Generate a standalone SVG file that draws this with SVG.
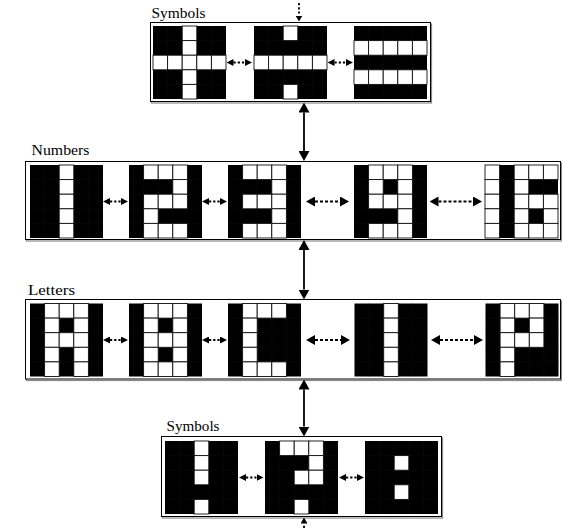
<svg xmlns="http://www.w3.org/2000/svg" width="562" height="528" viewBox="0 0 562 528">
<style>
.lbl{font-family:"Liberation Serif","DejaVu Serif",serif;font-size:14px;fill:#000}
.box{fill:#fff;stroke:#000;stroke-width:1}
.sh{fill:none;stroke:#8a8a8a;stroke-width:1.2}
.w{fill:#fff;stroke:#111;stroke-width:0.9}
.dot{stroke:#000;stroke-width:1.8;stroke-dasharray:2.2 2}
.dash{stroke:#000;stroke-width:1.8;stroke-dasharray:3 2}
.sol{stroke:#000;stroke-width:1.8}
</style>
<defs>
<g id="base"><rect width="73" height="73" fill="#000"/><path d="M14.6,0V73M29.2,0V73M43.8,0V73M58.4,0V73M0,14.6H73M0,29.2H73M0,43.8H73M0,58.4H73" stroke="#0e0e0e" stroke-width="0.5"/></g>
<rect id="c" class="w" width="14.6" height="14.6"/>
<marker id="hs" viewBox="0 0 10 10" refX="0" refY="5" markerWidth="7" markerHeight="7" markerUnits="userSpaceOnUse" orient="auto-start-reverse" preserveAspectRatio="none"><path d="M0,0L10,5L0,10z"/></marker>
<marker id="hl" viewBox="0 0 10 10" refX="0" refY="5" markerWidth="9" markerHeight="10" markerUnits="userSpaceOnUse" orient="auto-start-reverse" preserveAspectRatio="none"><path d="M0,0L10,5L0,10z"/></marker>
<marker id="hv" viewBox="0 0 10 10" refX="0" refY="5" markerWidth="10" markerHeight="11" markerUnits="userSpaceOnUse" orient="auto-start-reverse" preserveAspectRatio="none"><path d="M0,0L10,5L0,10z"/></marker>
<marker id="ht" viewBox="0 0 10 10" refX="0" refY="5" markerWidth="6" markerHeight="7" markerUnits="userSpaceOnUse" orient="auto-start-reverse" preserveAspectRatio="none"><path d="M0,0L10,5L0,10z"/></marker>
</defs>

<g id="symbols-top">
<rect class="sh" x="151.5" y="24" width="280" height="79"/>
<rect class="box" x="150.5" y="22.5" width="280" height="79"/>
<text class="lbl" x="151.5" y="18.3" textLength="54" lengthAdjust="spacingAndGlyphs">Symbols</text>
<g id="t1" transform="translate(153,26)"><use href="#base"/>
<use href="#c" x="29.2" y="0"/><use href="#c" x="29.2" y="14.6"/><use href="#c" x="0" y="29.2"/><use href="#c" x="14.6" y="29.2"/><use href="#c" x="29.2" y="29.2"/><use href="#c" x="43.8" y="29.2"/><use href="#c" x="58.4" y="29.2"/><use href="#c" x="29.2" y="43.8"/><use href="#c" x="29.2" y="58.4"/></g>
<g id="t2" transform="translate(254,26)"><use href="#base"/>
<use href="#c" x="29.2" y="0"/><use href="#c" x="0" y="29.2"/><use href="#c" x="14.6" y="29.2"/><use href="#c" x="29.2" y="29.2"/><use href="#c" x="43.8" y="29.2"/><use href="#c" x="58.4" y="29.2"/><use href="#c" x="29.2" y="58.4"/></g>
<g id="t3" transform="translate(354,26)"><use href="#base"/>
<use href="#c" x="0" y="14.6"/><use href="#c" x="14.6" y="14.6"/><use href="#c" x="29.2" y="14.6"/><use href="#c" x="43.8" y="14.6"/><use href="#c" x="58.4" y="14.6"/>
<use href="#c" x="0" y="43.8"/><use href="#c" x="14.6" y="43.8"/><use href="#c" x="29.2" y="43.8"/><use href="#c" x="43.8" y="43.8"/><use href="#c" x="58.4" y="43.8"/></g>
</g>

<g id="numbers">
<rect class="sh" x="26.5" y="163" width="535" height="78"/>
<rect class="box" x="25.5" y="161.5" width="535" height="78"/>
<text class="lbl" x="31.5" y="155" textLength="58" lengthAdjust="spacingAndGlyphs">Numbers</text>
<g id="n1" transform="translate(30,165)"><use href="#base"/>
<use href="#c" x="29.2" y="0"/><use href="#c" x="29.2" y="14.6"/><use href="#c" x="29.2" y="29.2"/><use href="#c" x="29.2" y="43.8"/><use href="#c" x="29.2" y="58.4"/></g>
<g id="n2" transform="translate(129,165)"><use href="#base"/>
<use href="#c" x="14.6" y="0"/><use href="#c" x="29.2" y="0"/><use href="#c" x="43.8" y="0"/>
<use href="#c" x="43.8" y="14.6"/>
<use href="#c" x="14.6" y="29.2"/><use href="#c" x="29.2" y="29.2"/><use href="#c" x="43.8" y="29.2"/>
<use href="#c" x="14.6" y="43.8"/>
<use href="#c" x="14.6" y="58.4"/><use href="#c" x="29.2" y="58.4"/><use href="#c" x="43.8" y="58.4"/></g>
<g id="n3" transform="translate(228,165)"><use href="#base"/>
<use href="#c" x="14.6" y="0"/><use href="#c" x="29.2" y="0"/><use href="#c" x="43.8" y="0"/>
<use href="#c" x="43.8" y="14.6"/>
<use href="#c" x="14.6" y="29.2"/><use href="#c" x="29.2" y="29.2"/><use href="#c" x="43.8" y="29.2"/>
<use href="#c" x="43.8" y="43.8"/>
<use href="#c" x="14.6" y="58.4"/><use href="#c" x="29.2" y="58.4"/><use href="#c" x="43.8" y="58.4"/></g>
<g id="n4" transform="translate(354,165)"><use href="#base"/>
<use href="#c" x="14.6" y="0"/><use href="#c" x="29.2" y="0"/><use href="#c" x="43.8" y="0"/>
<use href="#c" x="14.6" y="14.6"/><use href="#c" x="43.8" y="14.6"/>
<use href="#c" x="14.6" y="29.2"/><use href="#c" x="29.2" y="29.2"/><use href="#c" x="43.8" y="29.2"/>
<use href="#c" x="43.8" y="43.8"/>
<use href="#c" x="14.6" y="58.4"/><use href="#c" x="29.2" y="58.4"/><use href="#c" x="43.8" y="58.4"/></g>
<g id="n5" transform="translate(485,165)"><use href="#base"/>
<use href="#c" x="0" y="0"/><use href="#c" x="29.2" y="0"/><use href="#c" x="43.8" y="0"/><use href="#c" x="58.4" y="0"/>
<use href="#c" x="0" y="14.6"/><use href="#c" x="29.2" y="14.6"/>
<use href="#c" x="0" y="29.2"/><use href="#c" x="29.2" y="29.2"/><use href="#c" x="43.8" y="29.2"/><use href="#c" x="58.4" y="29.2"/>
<use href="#c" x="0" y="43.8"/><use href="#c" x="29.2" y="43.8"/><use href="#c" x="58.4" y="43.8"/>
<use href="#c" x="0" y="58.4"/><use href="#c" x="29.2" y="58.4"/><use href="#c" x="43.8" y="58.4"/><use href="#c" x="58.4" y="58.4"/></g>
</g>

<g id="letters">
<rect class="sh" x="26.5" y="301" width="535" height="79.5"/>
<rect class="box" x="25.5" y="299.5" width="535" height="79.5"/>
<text class="lbl" x="28" y="295" textLength="47" lengthAdjust="spacingAndGlyphs">Letters</text>
<g id="l1" transform="translate(30,303.5)"><use href="#base"/>
<use href="#c" x="14.6" y="0"/><use href="#c" x="29.2" y="0"/><use href="#c" x="43.8" y="0"/>
<use href="#c" x="14.6" y="14.6"/><use href="#c" x="43.8" y="14.6"/>
<use href="#c" x="14.6" y="29.2"/><use href="#c" x="29.2" y="29.2"/><use href="#c" x="43.8" y="29.2"/>
<use href="#c" x="14.6" y="43.8"/><use href="#c" x="43.8" y="43.8"/>
<use href="#c" x="14.6" y="58.4"/><use href="#c" x="43.8" y="58.4"/></g>
<g id="l2" transform="translate(129,303.5)"><use href="#base"/>
<use href="#c" x="14.6" y="0"/><use href="#c" x="29.2" y="0"/><use href="#c" x="43.8" y="0"/>
<use href="#c" x="14.6" y="14.6"/><use href="#c" x="43.8" y="14.6"/>
<use href="#c" x="14.6" y="29.2"/><use href="#c" x="29.2" y="29.2"/><use href="#c" x="43.8" y="29.2"/>
<use href="#c" x="14.6" y="43.8"/><use href="#c" x="43.8" y="43.8"/>
<use href="#c" x="14.6" y="58.4"/><use href="#c" x="29.2" y="58.4"/><use href="#c" x="43.8" y="58.4"/></g>
<g id="l3" transform="translate(228,303.5)"><use href="#base"/>
<use href="#c" x="14.6" y="0"/><use href="#c" x="29.2" y="0"/><use href="#c" x="43.8" y="0"/>
<use href="#c" x="14.6" y="14.6"/><use href="#c" x="14.6" y="29.2"/><use href="#c" x="14.6" y="43.8"/>
<use href="#c" x="14.6" y="58.4"/><use href="#c" x="29.2" y="58.4"/><use href="#c" x="43.8" y="58.4"/></g>
<g id="l4" transform="translate(354.5,303.5)"><use href="#base"/>
<use href="#c" x="29.2" y="0"/><use href="#c" x="29.2" y="14.6"/><use href="#c" x="29.2" y="29.2"/><use href="#c" x="29.2" y="43.8"/><use href="#c" x="29.2" y="58.4"/></g>
<g id="l5" transform="translate(485.5,303.5)"><use href="#base"/>
<use href="#c" x="14.6" y="0"/><use href="#c" x="29.2" y="0"/><use href="#c" x="43.8" y="0"/>
<use href="#c" x="14.6" y="14.6"/><use href="#c" x="43.8" y="14.6"/>
<use href="#c" x="14.6" y="29.2"/><use href="#c" x="29.2" y="29.2"/><use href="#c" x="43.8" y="29.2"/>
<use href="#c" x="14.6" y="43.8"/><use href="#c" x="14.6" y="58.4"/></g>
</g>

<g id="symbols-bottom">
<rect class="sh" x="162.5" y="438" width="280" height="80"/>
<rect class="box" x="161.5" y="436.5" width="280" height="80"/>
<text class="lbl" x="166.5" y="431" textLength="53" lengthAdjust="spacingAndGlyphs">Symbols</text>
<g id="b1" transform="translate(165,441)"><use href="#base"/>
<use href="#c" x="29.2" y="0"/><use href="#c" x="29.2" y="14.6"/><use href="#c" x="29.2" y="29.2"/><use href="#c" x="29.2" y="58.4"/></g>
<g id="b2" transform="translate(265,441)"><use href="#base"/>
<use href="#c" x="14.6" y="0"/><use href="#c" x="29.2" y="0"/><use href="#c" x="43.8" y="0"/>
<use href="#c" x="43.8" y="14.6"/>
<use href="#c" x="29.2" y="29.2"/><use href="#c" x="43.8" y="29.2"/>
<use href="#c" x="29.2" y="58.4"/></g>
<g id="b3" transform="translate(365,441)"><use href="#base"/>
<use href="#c" x="29.2" y="14.6"/><use href="#c" x="29.2" y="43.8"/></g>
</g>

<g id="connectors">
<line class="dot" x1="233.5" y1="62.5" x2="245" y2="62.5" marker-start="url(#hs)" marker-end="url(#hs)"/>
<line class="dot" x1="334.5" y1="62.5" x2="346" y2="62.5" marker-start="url(#hs)" marker-end="url(#hs)"/>
<line class="dot" x1="110" y1="201.5" x2="121" y2="201.5" marker-start="url(#hs)" marker-end="url(#hs)"/>
<line class="dot" x1="209" y1="201.5" x2="220" y2="201.5" marker-start="url(#hs)" marker-end="url(#hs)"/>
<line class="dash" x1="315" y1="201.5" x2="340" y2="201.5" marker-start="url(#hl)" marker-end="url(#hl)"/>
<line class="dash" x1="438.5" y1="201.5" x2="473" y2="201.5" marker-start="url(#hl)" marker-end="url(#hl)"/>
<line class="dot" x1="110" y1="340" x2="121" y2="340" marker-start="url(#hs)" marker-end="url(#hs)"/>
<line class="dot" x1="209" y1="340" x2="220" y2="340" marker-start="url(#hs)" marker-end="url(#hs)"/>
<line class="dash" x1="315" y1="340" x2="341" y2="340" marker-start="url(#hl)" marker-end="url(#hl)"/>
<line class="dash" x1="440" y1="340" x2="474" y2="340" marker-start="url(#hl)" marker-end="url(#hl)"/>
<line class="dot" x1="246" y1="477.5" x2="256.5" y2="477.5" marker-start="url(#hs)" marker-end="url(#hs)"/>
<line class="dot" x1="346" y1="477.5" x2="357" y2="477.5" marker-start="url(#hs)" marker-end="url(#hs)"/>
<line class="sol" x1="304" y1="112.5" x2="304" y2="151" marker-start="url(#hv)" marker-end="url(#hv)"/>
<line class="sol" x1="304" y1="250" x2="304" y2="289.5" marker-start="url(#hv)" marker-end="url(#hv)"/>
<line class="sol" x1="304" y1="389.5" x2="304" y2="426.5" marker-start="url(#hv)" marker-end="url(#hv)"/>
<line class="dot" x1="299" y1="3" x2="299" y2="15.5" marker-end="url(#ht)"/>
<line class="dot" x1="304" y1="528" x2="304" y2="523.5" marker-end="url(#ht)"/>
</g>
</svg>
